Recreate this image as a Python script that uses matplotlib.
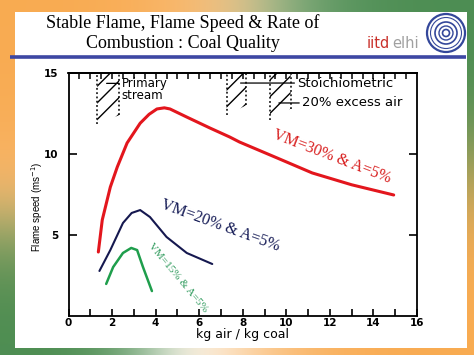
import numpy as np
import matplotlib
matplotlib.use('Agg')
import matplotlib.pyplot as plt
from matplotlib.patches import Rectangle, Circle

# ---------------- data ----------------
red_x = [1.37, 1.55, 1.92, 2.24, 2.69, 3.29, 3.7, 4.06, 4.4, 4.66, 5.43, 6.5, 7.4, 7.85, 9.5, 11.19, 13.0, 14.93]
red_y = [3.95, 5.93, 7.96, 9.2, 10.68, 11.9, 12.45, 12.78, 12.85, 12.78, 12.28, 11.6, 11.05, 10.74, 9.8, 8.83, 8.1, 7.47]

navy_x = [1.42, 1.92, 2.5, 2.9, 3.29, 3.74, 4.5, 5.43, 6.6]
navy_y = [2.78, 4.07, 5.74, 6.36, 6.54, 6.11, 4.88, 3.89, 3.21]

green_x = [1.73, 2.05, 2.5, 2.88, 3.15, 3.42, 3.83]
green_y = [1.98, 3.02, 3.89, 4.2, 4.07, 3.02, 1.54]

# hatched zones: x edges and the lower ends of their dashed borders
zone_left = [1.32, 7.26, 9.25]
zone_right = [2.33, 8.15, 10.2]
zone_bot_l = [11.85, 12.4, 12.1]
zone_bot_r = [12.4, 13.0, 12.8]

xticks = [0, 2, 4, 6, 8, 10, 12, 14, 16]
yticks = [5, 10, 15]

curve_labels = ['VM=30% & A=5%', 'VM=20% & A=5%', 'VM=15% & A=5%']

# ---------------- figure ----------------
W, H = 474, 355
fig = plt.figure(figsize=(4.74, 3.55), dpi=100)
bg = fig.add_axes([0, 0, 1, 1])
bg.set_xlim(0, W)
bg.set_ylim(H, 0)
bg.axis('off')

yy, xx = np.mgrid[0:H, 0:W].astype(float)
orange = np.array([247, 146, 30]) / 255
green = np.array([24, 108, 32]) / 255
white = np.array([1.0, 1.0, 1.0])

def gw(cx, cy, s):
    d = np.sqrt((xx - cx) ** 2 + (yy - cy) ** 2)
    return np.exp(-(d / s) ** 3)

wO = gw(0, 0, 210) + gw(W, H, 190)
wG = gw(W, 0, 180) + gw(0, H, 125)
wW = 0.3
img = (wO[..., None] * orange + wG[..., None] * green + wW * white) / (wO + wG + wW)[..., None]
bg.imshow(img, extent=[0, W, H, 0], aspect='auto', zorder=0)

bg.add_patch(Rectangle((15, 12), 452, 336, facecolor='white', edgecolor='none', zorder=1))
bg.plot([10, 466], [57, 57], color='#3d47a3', lw=2.6, zorder=2, solid_capstyle='butt')

bg.text(183, 23, 'Stable Flame, Flame Speed & Rate of', ha='center', va='center',
        fontsize=13, family='Liberation Serif', color='black', zorder=3)
bg.text(183, 43, 'Combustion : Coal Quality', ha='center', va='center',
        fontsize=13, family='Liberation Serif', color='black', zorder=3)

bg.text(367, 43, 'iitd', ha='left', va='center', fontsize=10.5, family='DejaVu Sans',
        color='#c9302a', zorder=3)
bg.text(392, 43, 'elhi', ha='left', va='center', fontsize=10.5, family='DejaVu Sans',
        color='#a0a0a0', zorder=3)
for r, lw in [(19, 1.6), (15.5, 0.8), (11, 1.2), (7, 1.0), (3.5, 1.2)]:
    bg.add_patch(Circle((446, 33), r, facecolor='none', edgecolor='#34479a', lw=lw, zorder=3))

# ---------------- main axes ----------------
ax = fig.add_axes([68.5 / W, (H - 316) / H, (417 - 68.5) / W, (316 - 73) / H])
ax.set_facecolor('none')
ax.set_xlim(0, 16)
ax.set_ylim(0, 15)

ax.plot(red_x, red_y, color='#e3161d', lw=2.2, solid_capstyle='round')
ax.plot(navy_x, navy_y, color='#15184f', lw=1.5, solid_capstyle='round')
ax.plot(green_x, green_y, color='#1f9e4c', lw=1.8, solid_capstyle='round')

for xl, xr, bl, br in zip(zone_left, zone_right, zone_bot_l, zone_bot_r):
    ax.fill([xl, xr, xr, xl], [bl, br, 15, 15], facecolor='none', edgecolor='black',
            hatch='//', lw=0)
    ax.plot([xl, xl], [bl, 15], color='black', lw=1.1, ls=(0, (1.2, 1.6)))
    ax.plot([xr, xr], [br, 15], color='black', lw=1.1, ls=(0, (1.2, 1.6)))

ann_kw = dict(fontsize=8.5, family='DejaVu Sans', color='black', va='center', ha='left')
ax.annotate('Primary', xy=(1.75, 14.36), xytext=(2.45, 14.36),
            arrowprops=dict(arrowstyle='-', lw=0.9, shrinkA=0, shrinkB=0), **ann_kw)
ax.text(2.45, 13.6, 'stream', **ann_kw)
ax.annotate('Stoichiometric', xy=(7.9, 14.38), xytext=(10.5, 14.38),
            arrowprops=dict(arrowstyle='-', lw=0.9, shrinkA=0, shrinkB=0),
            **dict(ann_kw, fontsize=9.5))
ax.annotate('20% excess air', xy=(9.66, 13.15), xytext=(10.72, 13.15),
            arrowprops=dict(arrowstyle='-', lw=0.9, shrinkA=0, shrinkB=0),
            **dict(ann_kw, fontsize=9.5))

ax.text(12.08, 9.81, curve_labels[0], rotation=-21, ha='center', va='center',
        fontsize=11.5, family='Liberation Serif', color='#d81e1e', rotation_mode='anchor')
ax.text(6.96, 5.56, curve_labels[1], rotation=-20, ha='center', va='center',
        fontsize=11.5, family='Liberation Serif', color='#141a55', rotation_mode='anchor')
ax.text(5.0, 2.35, curve_labels[2], rotation=-50, ha='center', va='center',
        fontsize=8, family='Liberation Serif', color='#2e9a5c', rotation_mode='anchor')

for s in ax.spines.values():
    s.set_linewidth(1.3)
ax.set_xticks(xticks)
ax.set_xticks(np.arange(1, 16, 2), minor=True)
ax.set_yticks(yticks)
ax.set_xticklabels([str(v) for v in xticks], fontsize=7.5, family='DejaVu Sans', fontweight='bold')
ax.set_yticklabels([str(v) for v in yticks], fontsize=7.5, family='DejaVu Sans', fontweight='bold')
ax.tick_params(axis='x', which='both', direction='in', length=5, width=1.2, pad=1.5,
               top=False, bottom=True)
ax.tick_params(axis='y', which='both', direction='in', length=6, width=1.2, pad=7,
               left=True, right=True)
top = ax.secondary_xaxis('top')
top.set_xticks(np.arange(0.5, 16, 0.5))
top.tick_params(direction='in', length=4, width=1.1, labeltop=False)
top.spines['top'].set_linewidth(1.3)

ax.set_xlabel('kg air / kg coal', fontsize=9, family='DejaVu Sans', labelpad=0)
ax.set_ylabel('Flame speed (ms$^{-1}$)', fontsize=7, family='Liberation Sans')
ax.yaxis.set_label_coords(-0.067, 0.45)

fig.savefig('out.png', dpi=100)
